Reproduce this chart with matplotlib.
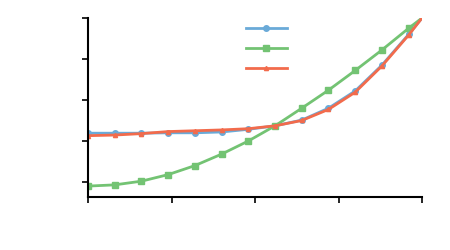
import matplotlib
matplotlib.use('Agg')
import matplotlib.pyplot as plt
import numpy as np

# x positions of the samples (last one sits on the right edge)
x_vals = [0, 1, 2, 3, 4, 5, 6, 7, 8, 9, 10, 11, 12, 12.5]

blue_vals = [1.19, 1.19, 1.19, 1.20, 1.20, 1.22, 1.285, 1.37, 1.51, 1.80, 2.22, 2.85, 3.60, 4.0]
green_vals = [-0.10, -0.07, 0.02, 0.18, 0.40, 0.68, 1.00, 1.37, 1.80, 2.24, 2.72, 3.22, 3.75, 4.0]
red_vals = [1.13, 1.145, 1.18, 1.23, 1.25, 1.27, 1.30, 1.37, 1.50, 1.77, 2.19, 2.83, 3.585, 4.0]

x_ticks = [0, 3.125, 6.25, 9.375, 12.5]
y_ticks = [0, 1, 2, 3, 4]

fig = plt.figure(figsize=(4.5, 2.5), dpi=100)
ax = fig.add_axes([0.1956, 0.212, 0.7422, 0.716])

every = list(range(len(x_vals) - 1))
l1, = ax.plot(x_vals, blue_vals, color='#6AAAD8', lw=2, marker='o', ms=4, markevery=every)
l2, = ax.plot(x_vals, green_vals, color='#73C373', lw=2, marker='s', ms=4.5, markevery=every)
l3, = ax.plot(x_vals, red_vals, color='#F26B4C', lw=2, marker='^', ms=3, markevery=every)

ax.set_xlim(0, 12.5)
ax.set_ylim(-0.366, 4)
ax.set_xticks(x_ticks)
ax.set_yticks(y_ticks)
ax.set_xticklabels([])
ax.set_yticklabels([])
ax.tick_params(direction='out', length=4, width=1.2, color='black')

for s in ['top', 'right']:
    ax.spines[s].set_visible(False)
for s in ['left', 'bottom']:
    ax.spines[s].set_linewidth(1.5)
    ax.spines[s].set_color('black')

ax.legend([l1, l2, l3], [' ', ' ', ' '], frameon=False, loc='upper left',
          bbox_to_anchor=(0.455, 1.008), handlelength=3.0, labelspacing=0.42,
          borderaxespad=0.0)

plt.savefig('out.png', dpi=100)
